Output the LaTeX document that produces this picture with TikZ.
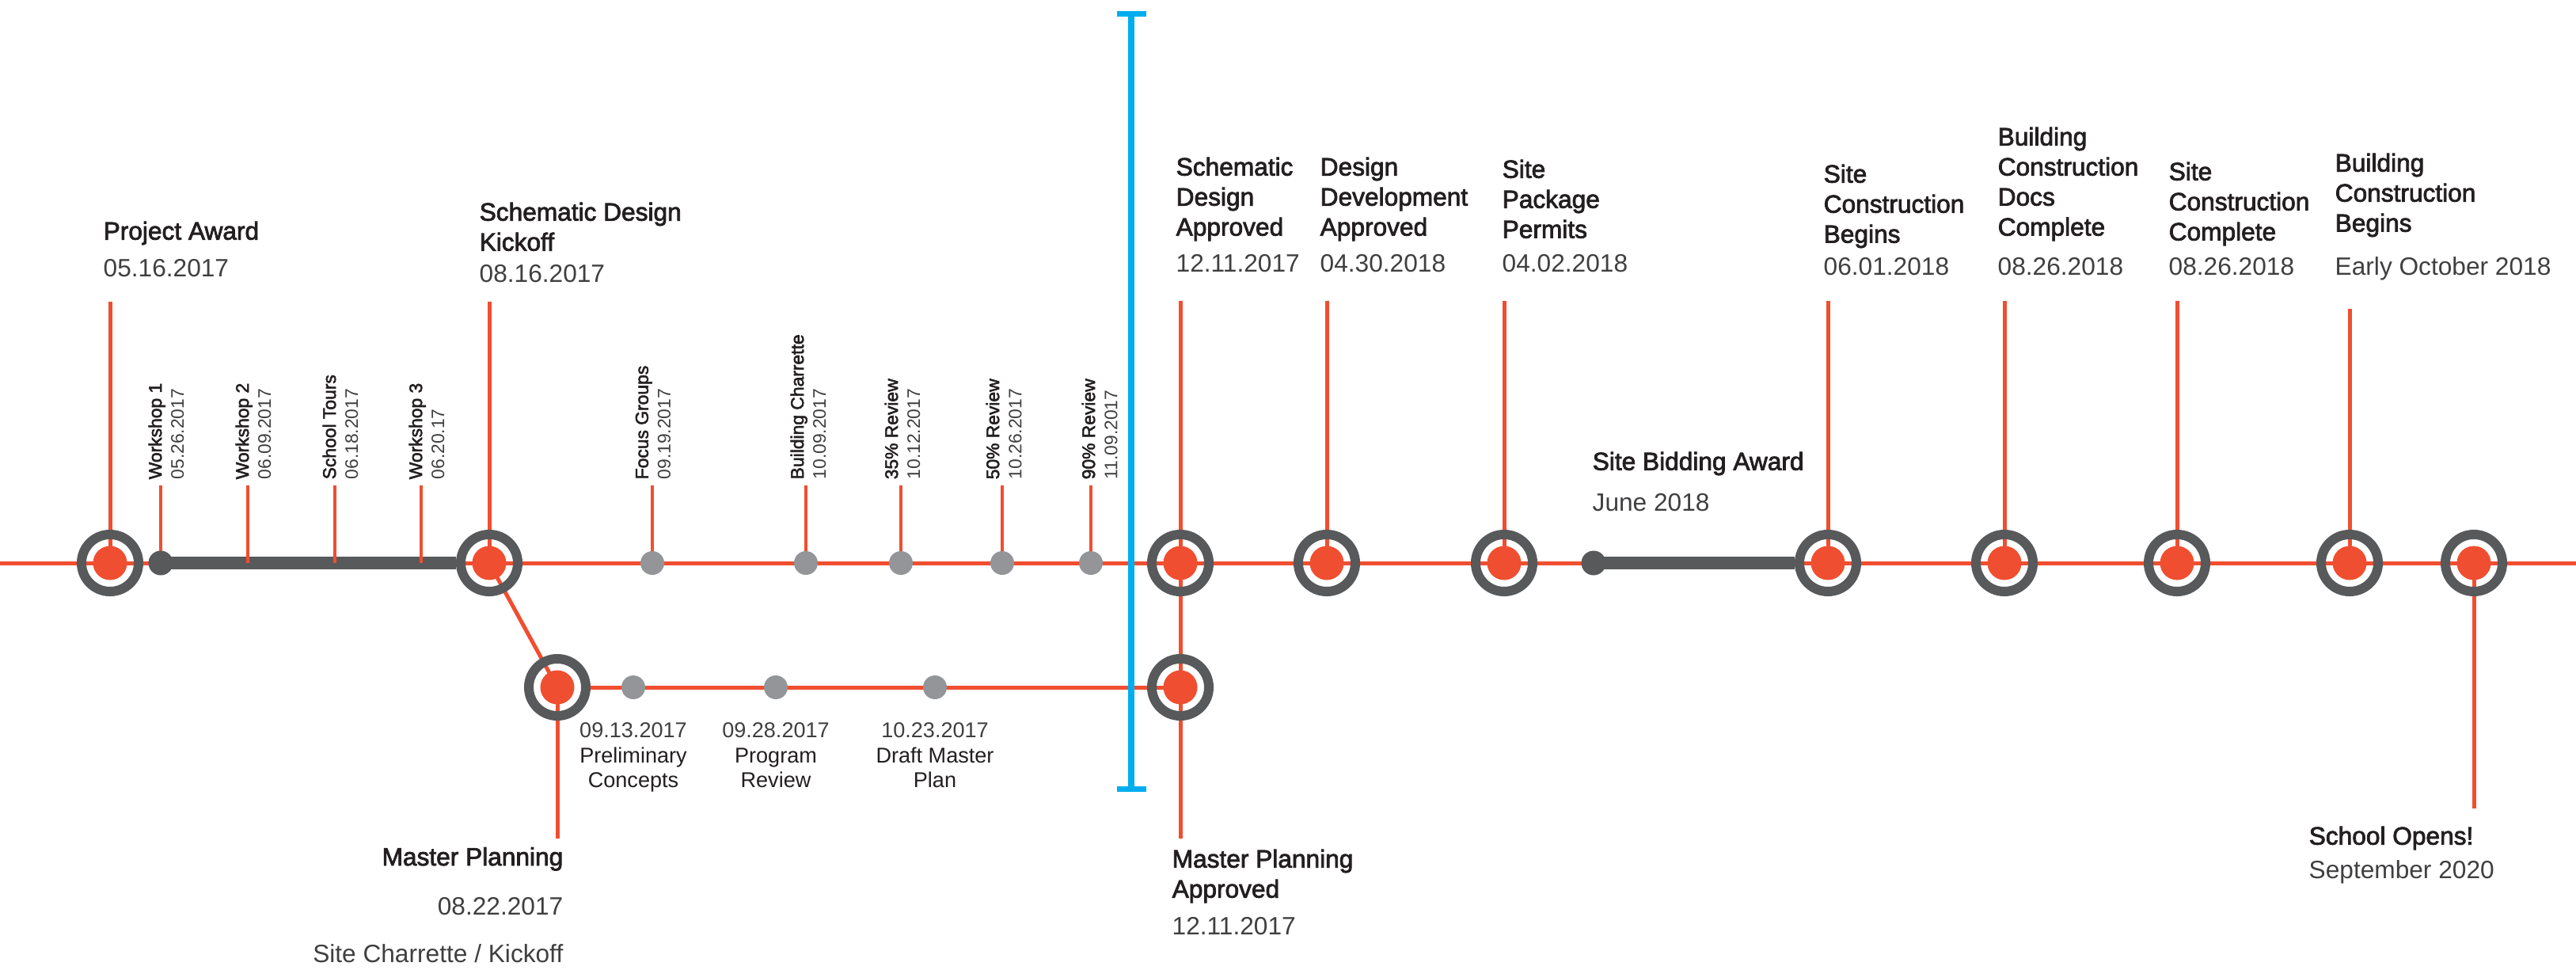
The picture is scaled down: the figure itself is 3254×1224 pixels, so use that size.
\documentclass[tikz,border=0pt]{standalone}
\usepackage{fontspec}
\setmainfont{Liberation Sans}
\newfontfamily\headfont{Liberation Sans}[FakeBold=2.5]
\usepackage{tikz}
\usetikzlibrary{arrows.meta, backgrounds}

\definecolor{trackred}{HTML}{F04E30}
\definecolor{ringgray}{HTML}{58595B}
\definecolor{eventgray}{HTML}{939598}
\definecolor{gateblue}{HTML}{00AEEF}
\definecolor{titleink}{HTML}{231F20}
\definecolor{dateink}{HTML}{3F3F41}

\begin{document}
\begin{tikzpicture}[
        x=0.01cm, y=-0.01cm,
        milestone/.style={circle, draw=ringgray, line width=0.12cm, minimum size=0.72cm, inner sep=0pt,
            path picture={\fill[trackred] (path picture bounding box.center) circle (0.215cm);}},
        evdot/.style={circle, fill=eventgray, minimum size=0.3cm, inner sep=0pt},
        leaddot/.style={circle, fill=ringgray, minimum size=0.31cm, inner sep=0pt},
        mainline/.style={trackred, line width=0.05cm},
        tickline/.style={trackred, line width=0.035cm},
        spanbar/.style={ringgray, line width=0.16cm},
        gateline/.style={gateblue, line width=0.08cm,
            {Bar[width=0.37cm, line width=0.07cm]}-{Bar[width=0.37cm, line width=0.07cm]}},
        headtext/.style={anchor=north west, align=left, inner sep=0pt, text=titleink,
            font=\headfont\fontsize{9}{10.8}\selectfont},
        datetext/.style={anchor=base west, inner sep=0pt, text=dateink, font=\fontsize{9}{10.8}\selectfont},
        sidelabel/.style={rotate=90, anchor=west, align=left, inner xsep=0.07cm, inner ysep=0pt,
            text=dateink, font=\fontsize{6.5}{8}\selectfont},
        sublabel/.style={anchor=north, align=center, inner sep=0pt, text=titleink,
            font=\fontsize{7.7}{9}\selectfont}
    ]
        \useasboundingbox (0,0) rectangle (3254,1224);

        % Main line, edge to edge
        \coordinate (lineW) at (0,711);
        \coordinate (lineE) at (3254,711);

        % Milestones on the main line, with the tip of each stem
        \foreach \name/\x/\tip in {award/139/381, sdkick/618/381, sdappr/1491/380, ddappr/1676/380,
                permits/1900/380, sitebegin/2309/380, docs/2532/380, sitedone/2750/380, buildbegin/2968/390}{
            \node[milestone] (\name) at (\x,711) {};
            \coordinate (\name-tip) at (\x,\tip);
        }
        \node[milestone] (opens) at (3125,711) {};
        \coordinate (opens-tip) at (3125,1021);

        % Master planning branch
        \node[milestone] (mp) at (704,868) {};
        \node[milestone] (mpappr) at (1491,868) {};
        \coordinate (mp-tip) at (704,1059);
        \coordinate (mpappr-tip) at (1491,1059);

        % Smaller events on the main line
        \node[leaddot] (ws1) at (203,711) {};
        \coordinate (ws2) at (313,711);
        \coordinate (tours) at (423,711);
        \coordinate (ws3) at (532,711);
        \foreach \name/\x in {focus/824, charrette/1018, rev35/1138, rev50/1266, rev90/1378}
            \node[evdot] (\name) at (\x,711) {};
        \node[leaddot] (bidding) at (2013,711) {};

        % Upright event labels
        \foreach \name/\x/\what/\when in {ws1/210/Workshop 1/05.26.2017, ws2/320/Workshop 2/06.09.2017,
                tours/430/School Tours/06.18.2017, ws3/539/Workshop 3/06.20.17,
                focus/825/Focus Groups/09.19.2017, charrette/1021/Building Charrette/10.09.2017,
                rev35/1140/35\% Review/10.12.2017, rev50/1268/50\% Review/10.26.2017,
                rev90/1389/90\% Review/11.09.2017}
            \node[sidelabel] (\name-lbl) at (\x,613) {{\headfont\color{titleink}\what}\\\when};

        % Events on the branch
        \foreach \name/\x/\when/\what in {prelim/800/09.13.2017/Preliminary\\Concepts,
                program/980/09.28.2017/Program\\Review, draft/1181/10.23.2017/Draft Master\\Plan}{
            \node[evdot] (\name) at (\x,868) {};
            \node[sublabel] (\name-lbl) at (\x,912) {{\color{dateink}\when}\\\what};
        }

        % Connections
        \begin{scope}[on background layer]
            \draw[mainline] (lineW) -- (lineE);
            \draw[spanbar] (ws1.center) -- (sdkick);
            \draw[spanbar] (bidding.center) -- (sitebegin);
            \draw[mainline] (sdkick.center) -- (mp.center);
            \draw[mainline] (mp) -- (mpappr.center);
            \draw[mainline] (sdappr.center) -- (mpappr-tip);
            \draw[mainline] (mp.center) -- (mp-tip);
            \draw[mainline] (opens.center) -- (opens-tip);
            \foreach \name in {award, sdkick, sdappr, ddappr, permits, sitebegin, docs, sitedone, buildbegin}
                \draw[mainline] (\name.center) -- (\name-tip);
            \foreach \name in {ws1, ws2, tours, ws3, focus, charrette, rev35, rev50, rev90}
                \draw[tickline] (\name.center) -- (\name.center |- \name-lbl.west);
        \end{scope}

        % Cut-off line
        \coordinate (gateN) at (1429,14);
        \coordinate (gateS) at (1429,1000);
        \draw[gateline] (gateN) -- (gateS);

        % Milestone titles and dates
        \node[headtext] (award-t) at (130,279) {Project Award};
        \node[datetext] (award-d) at (130,349) {05.16.2017};
        \node[headtext] (sdkick-t) at (605,255) {Schematic Design\\Kickoff};
        \node[datetext] (sdkick-d) at (605,356) {08.16.2017};
        \node[headtext] (sdappr-t) at (1485,198) {Schematic\\Design\\Approved};
        \node[datetext] (sdappr-d) at (1485,343) {12.11.2017};
        \node[headtext] (ddappr-t) at (1667,198) {Design\\Development\\Approved};
        \node[datetext] (ddappr-d) at (1667,343) {04.30.2018};
        \node[headtext] (permits-t) at (1897,201) {Site\\Package\\Permits};
        \node[datetext] (permits-d) at (1897,343) {04.02.2018};
        \node[headtext] (bidding-t) at (2011,570) {Site Bidding Award};
        \node[datetext] (bidding-d) at (2011,645) {June 2018};
        \node[headtext] (sitebegin-t) at (2303,207) {Site\\Construction\\Begins};
        \node[datetext] (sitebegin-d) at (2303,347) {06.01.2018};
        \node[headtext] (docs-t) at (2523,160) {Building\\Construction\\Docs\\Complete};
        \node[datetext] (docs-d) at (2523,347) {08.26.2018};
        \node[headtext] (sitedone-t) at (2739,204) {Site\\Construction\\Complete};
        \node[datetext] (sitedone-d) at (2739,347) {08.26.2018};
        \node[headtext] (buildbegin-t) at (2949,193) {Building\\Construction\\Begins};
        \node[datetext] (buildbegin-d) at (2949,347) {Early October 2018};

        % Below the line
        \node[headtext, anchor=base east] (mp-t) at (712,1093) {Master Planning};
        \node[datetext, anchor=base east] (mp-d) at (712,1155) {08.22.2017};
        \node[datetext, anchor=base east] (mp-s) at (712,1215) {Site Charrette / Kickoff};
        \node[headtext] (mpappr-t) at (1480,1072) {Master Planning\\Approved};
        \node[datetext] (mpappr-d) at (1480,1180) {12.11.2017};
        \node[headtext] (opens-t) at (2916,1043) {School Opens!};
        \node[datetext] (opens-d) at (2916,1109) {September 2020};
    \end{tikzpicture}
\end{document}
